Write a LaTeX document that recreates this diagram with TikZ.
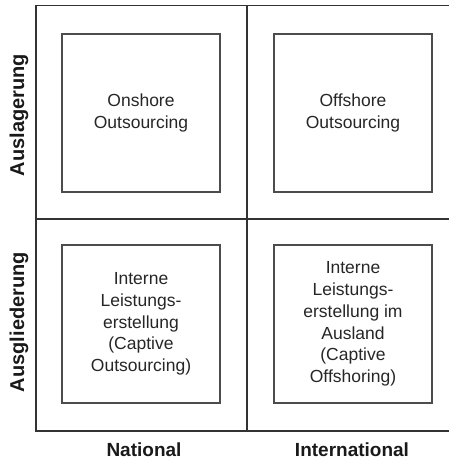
\documentclass[tikz,border=0pt]{standalone}
\usepackage{fontspec}
\setmainfont{Liberation Sans}
\begin{document}
\begin{tikzpicture}[x=1pt,y=-1pt,
  frame/.style={draw=black!80,line width=1.8pt},
  cell/.style={draw=black!70,line width=1.3pt,minimum width=158pt,minimum height=158pt,inner sep=0pt},
  celltext/.style={align=center,font=\fontsize{17.5}{21.7}\selectfont,text=black!85},
  axis/.style={font=\fontsize{19}{22}\selectfont\bfseries,text=black!90},
  yaxis/.style={font=\fontsize{20}{22}\selectfont\bfseries,text=black!90,rotate=90}]
\useasboundingbox (0,0) rectangle (449,461);
% outer frame
\coordinate (tl) at (36,5.5);
\coordinate (tr) at (449,5.5);
\coordinate (bl) at (36,431);
\coordinate (br) at (449,431);
\coordinate (mt) at (247,5.5);
\coordinate (mb) at (247,431);
\coordinate (ml) at (36,219);
\coordinate (mr) at (449,219);
\draw[frame] (tr) -- (tl) -- (bl) -- (br);
\draw[frame] (mt) -- (mb);
\draw[frame] (ml) -- (mr);
% cells
\node[cell] (c11) at (141,113) {};
\node[cell] (c12) at (353,113) {};
\node[cell] (c21) at (141,324) {};
\node[cell] (c22) at (353,324) {};
\node[celltext] (t11) at (c11) {Onshore\\Outsourcing};
\node[celltext] (t12) at (c12) {Offshore\\Outsourcing};
\node[celltext] (t21) at (c21) {Interne\\Leistungs-\\erstellung\\(Captive\\Outsourcing)};
\node[celltext] (t22) at (c22) {Interne\\Leistungs-\\erstellung im\\Ausland\\(Captive\\Offshoring)};
% axis labels
\node[yaxis] (ya) at (19,115) {Auslagerung};
\node[yaxis] (yb) at (19,322) {Ausgliederung};
\node[axis] (xa) at (144,450) {National};
\node[axis] (xb) at (352,450) {International};
\end{tikzpicture}
\end{document}
